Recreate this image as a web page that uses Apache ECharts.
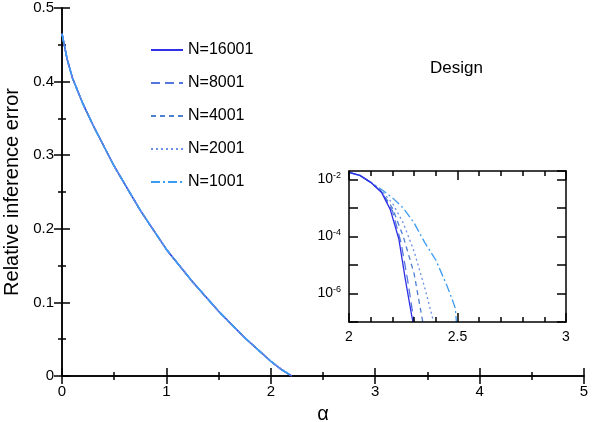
<!DOCTYPE html>
<html>
<head>
<meta charset="utf-8">
<script src="https://cdn.jsdelivr.net/npm/echarts@6/dist/echarts.min.js"></script>
<style>
  html, body { margin: 0; padding: 0; background: #fff; }
  #chart { width: 598px; height: 422px; }
</style>
</head>
<body>
<div id="chart"></div>
<script>
// main panel: relative inference error vs alpha (all N overlap)
const mainCurve = [
  [0, 0.465], [0.05, 0.43], [0.1, 0.405], [0.2, 0.37], [0.3, 0.34], [0.5, 0.285],
  [0.75, 0.225], [1, 0.172], [1.25, 0.128], [1.5, 0.088], [1.75, 0.052],
  [2, 0.02], [2.1, 0.009], [2.2, 0]
];

const seriesNames = ['N=16001', 'N=8001', 'N=4001', 'N=2001', 'N=1001'];
const seriesColors = ['#2f2fe6', '#5577dd', '#4f7fd0', '#6a8fe8', '#3d9bf2'];
const seriesDash = ['solid', [9, 5], [5, 4], [2, 3], [9, 3, 2, 3]];

// inset (log scale), one list per N
const common = [[2.0, 1.8e-2], [2.05, 1.4e-2], [2.1, 8e-3]];
const inset16001 = common.concat([[2.15, 3.5e-3], [2.19, 9e-4], [2.23, 8e-5], [2.26, 3e-6], [2.29, 1.5e-7], [2.295, 1e-7]]);
const inset8001 = common.concat([[2.15, 3.7e-3], [2.2, 8e-4], [2.24, 6e-5], [2.27, 3e-6], [2.3, 1e-7]]);
const inset4001 = common.concat([[2.15, 3.8e-3], [2.2, 1e-3], [2.25, 1e-4], [2.3, 5e-6], [2.34, 1e-7]]);
const inset2001 = common.concat([[2.15, 4e-3], [2.2, 1.5e-3], [2.25, 3e-4], [2.3, 3e-5], [2.35, 1.5e-6], [2.39, 1e-7]]);
const inset1001 = common.concat([[2.15, 4.5e-3], [2.2, 2.3e-3], [2.25, 1e-3], [2.3, 3e-4], [2.35, 6e-5], [2.4, 1.5e-5], [2.45, 2e-6], [2.48, 5e-7], [2.49, 3e-7], [2.495, 1e-7]]);
const insetData = [inset16001, inset8001, inset4001, inset2001, inset1001];

const font = 'Liberation Sans, Arial, sans-serif';
const black = '#000';

function frameAxis(extra) {
  return Object.assign({
    axisLine: { lineStyle: { color: black, width: 1.5 } },
    axisTick: { inside: true, length: 8, lineStyle: { color: black, width: 1.5 } },
    minorTick: { show: true, splitNumber: 2, length: 4, lineStyle: { color: black, width: 1.5 } },
    splitLine: { show: false },
    axisLabel: { color: black, fontFamily: font, fontSize: 15 }
  }, extra);
}

const chart = echarts.init(document.getElementById('chart'));

const series = [];
seriesNames.forEach((name, i) => {
  series.push({
    name, type: 'line', xAxisIndex: 0, yAxisIndex: 0, symbol: 'none',
    data: mainCurve, z: 2 + i,
    lineStyle: { color: seriesColors[i], width: 1.5, type: seriesDash[i] },
    itemStyle: { color: seriesColors[i] }
  });
});
seriesNames.forEach((name, i) => {
  series.push({
    name, type: 'line', xAxisIndex: 2, yAxisIndex: 2, symbol: 'none',
    data: insetData[i], z: 12 - i,
    lineStyle: { color: seriesColors[i], width: 1.3, type: seriesDash[i] },
    itemStyle: { color: seriesColors[i] }
  });
});

const expLabel = (v) => {
  const e = Math.round(Math.log10(v));
  if (e % 2 !== 0) return '';
  return '{b|10}{s|' + e + '}';
};

const gridBase = { outerBoundsMode: 'none', containLabel: false };

chart.setOption({
  animation: false,
  backgroundColor: '#fff',
  grid: [
    Object.assign({ left: 62, right: 14, top: 8, bottom: 46 }, gridBase),
    Object.assign({ left: 62, right: 14, top: 8, bottom: 46 }, gridBase),
    Object.assign({ left: 349, right: 32, top: 171, bottom: 100, show: true, backgroundColor: '#fff', borderWidth: 0, z: 5 }, gridBase)
  ],
  xAxis: [
    frameAxis({ gridIndex: 0, type: 'value', min: 0, max: 5, interval: 1,
      name: 'α', nameLocation: 'middle', nameGap: 28,
      nameTextStyle: { color: black, fontFamily: font, fontSize: 20 } }),
    frameAxis({ gridIndex: 1, type: 'value', min: 0, max: 5, interval: 1, position: 'top',
      axisLabel: { show: false } }),
    frameAxis({ gridIndex: 2, type: 'value', min: 2, max: 3, interval: 0.5, z: 15,
      minorTick: { show: true, splitNumber: 5, length: 5, lineStyle: { color: black, width: 1.5 } },
      axisTick: { inside: true, length: 9, lineStyle: { color: black, width: 1.5 } },
      axisLabel: { color: black, fontFamily: font, fontSize: 14, formatter: v => String(v) } }),
    frameAxis({ gridIndex: 2, type: 'value', min: 2, max: 3, interval: 0.5, position: 'top', z: 15,
      minorTick: { show: true, splitNumber: 5, length: 5, lineStyle: { color: black, width: 1.5 } },
      axisTick: { inside: true, length: 9, lineStyle: { color: black, width: 1.5 } },
      axisLabel: { show: false } })
  ],
  yAxis: [
    frameAxis({ gridIndex: 0, type: 'value', min: 0, max: 0.5, interval: 0.1,
      name: 'Relative inference error', nameLocation: 'middle', nameGap: 38,
      nameTextStyle: { color: black, fontFamily: font, fontSize: 20 } }),
    frameAxis({ gridIndex: 1, type: 'value', min: 0, max: 0.5, interval: 0.1, position: 'right',
      axisLabel: { show: false } }),
    frameAxis({ gridIndex: 2, type: 'log', logBase: 10, min: 1e-7, max: 0.02, z: 15,
      axisTick: { inside: true, length: 9, lineStyle: { color: black, width: 1.5 } },
      minorTick: { show: false },
      axisLabel: { color: black, fontFamily: font, formatter: expLabel,
        rich: { b: { fontSize: 14, fontFamily: font, color: black },
                s: { fontSize: 9, fontFamily: font, color: black, verticalAlign: 'top', padding: [0, 0, 8, 0] } } } }),
    frameAxis({ gridIndex: 2, type: 'log', logBase: 10, min: 1e-7, max: 0.02, position: 'right', z: 15,
      axisTick: { inside: true, length: 9, lineStyle: { color: black, width: 1.5 } },
      minorTick: { show: false }, axisLabel: { show: false } })
  ],
  legend: {
    data: seriesNames, orient: 'vertical', left: 145, top: 37, itemGap: 17,
    itemWidth: 32, itemHeight: 16,
    itemStyle: { opacity: 0 },
    textStyle: { color: black, fontFamily: font, fontSize: 16 }
  },
  graphic: [
    { type: 'text', left: 430, top: 60, style: { text: 'Design', fontFamily: font, fontSize: 17, fill: black } }
  ],
  series
});
</script>
</body>
</html>
